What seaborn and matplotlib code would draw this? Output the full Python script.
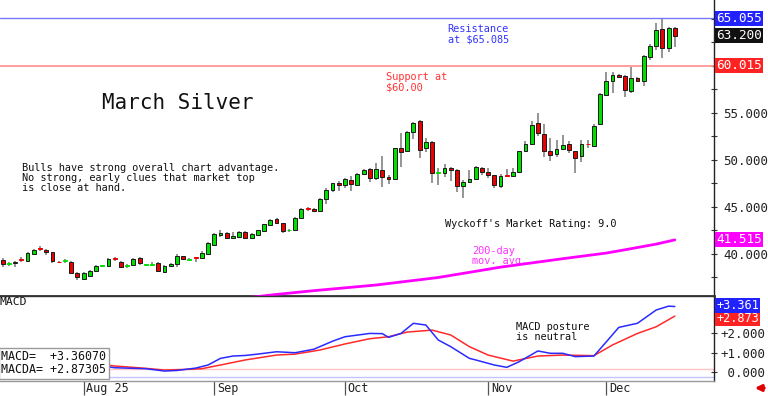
import numpy as np
import matplotlib
matplotlib.use('Agg')
import matplotlib.pyplot as plt
import seaborn as sns
from matplotlib.ticker import MultipleLocator
from matplotlib.transforms import ScaledTranslation

# daily candles, Jul 15 2025 .. Dec 16 2025
opens = [39.4, 38.9, 39.05, 39.45, 39.25, 40.0, 40.55, 40.45, 40.2, 39.2,
         39.25, 39.2, 38.0, 37.35, 37.7, 38.2, 38.7, 38.75, 39.5, 39.15,
         38.7, 38.8, 39.55, 38.8, 38.85, 39.0, 38.1, 38.75, 38.95, 39.75,
         39.4, 39.65, 39.6, 40.05, 41.0, 42.05, 42.2, 41.65, 41.85, 42.3,
         41.7, 42.05, 42.45, 43.1, 43.7, 43.25, 42.5, 42.5, 43.8, 44.8,
         44.75, 44.6, 45.9, 46.8, 47.5, 47.3, 47.9, 47.3, 48.5, 49.0,
         48.1, 48.9, 48.2, 47.95, 51.25, 50.95, 53.0, 54.15, 51.25, 51.95,
         48.6, 48.6, 49.2, 48.9, 47.25, 47.65, 48.0, 49.1, 48.75, 48.4,
         47.25, 48.4, 48.35, 48.75, 50.95, 51.65, 53.9, 52.75, 51.0, 50.6,
         51.15, 51.75, 50.95, 50.4, 51.7, 51.5, 53.8, 56.9, 58.35, 59.05,
         58.95, 57.35, 58.7, 58.4, 61.0, 62.1, 63.95, 61.95, 64.0]
highs = [39.6, 39.1, 39.3, 39.65, 40.2, 40.55, 40.8, 40.5, 40.25, 39.25,
         39.45, 39.25, 38.1, 38.1, 38.3, 38.8, 38.8, 39.6, 39.7, 39.25,
         38.9, 39.6, 39.65, 38.95, 39.2, 39.1, 38.8, 39.05, 40.0, 39.8,
         39.6, 39.7, 40.3, 41.3, 42.2, 42.6, 42.3, 42.3, 42.45, 42.45,
         42.2, 42.6, 43.2, 43.75, 43.85, 43.3, 42.7, 43.9, 44.9, 45.0,
         44.85, 46.0, 47.0, 47.6, 47.75, 48.1, 48.3, 48.6, 49.05, 49.1,
         49.7, 50.4, 48.4, 51.3, 52.9, 53.1, 54.0, 54.25, 52.3, 52.0,
         49.1, 49.55, 49.3, 49.0, 47.9, 48.9, 49.4, 49.3, 49.2, 48.45,
         48.5, 49.0, 49.2, 51.0, 52.0, 54.2, 54.95, 53.85, 52.35, 52.1,
         52.7, 52.0, 51.0, 52.1, 52.1, 53.8, 57.1, 59.4, 59.35, 59.15,
         59.0, 59.85, 58.85, 61.2, 62.3, 64.6, 65.0, 64.2, 64.1]
lows = [38.6, 38.7, 38.6, 39.2, 39.2, 39.9, 40.3, 39.85, 39.05, 39.05,
        39.05, 37.95, 37.25, 37.25, 37.65, 38.15, 38.65, 38.7, 39.3, 38.5,
        38.55, 38.75, 38.8, 38.7, 38.75, 38.1, 37.95, 38.6, 38.6, 39.4,
        39.3, 39.2, 39.55, 39.85, 40.9, 41.85, 41.6, 41.55, 41.7, 41.6,
        41.6, 41.95, 42.35, 43.0, 43.15, 42.2, 42.35, 42.45, 43.75, 44.6,
        44.45, 44.55, 45.3, 46.6, 46.75, 47.05, 46.65, 47.25, 48.45, 47.7,
        47.9, 47.15, 47.4, 47.9, 49.3, 50.9, 52.2, 50.2, 50.9, 47.6,
        47.35, 48.2, 47.8, 46.6, 46.0, 47.5, 47.95, 48.45, 48.1, 47.05,
        47.05, 48.2, 48.3, 48.7, 50.8, 51.6, 52.55, 50.35, 49.9, 50.3,
        51.1, 50.7, 48.65, 49.8, 51.3, 51.4, 53.7, 56.8, 57.15, 58.7,
        56.75, 57.15, 58.3, 57.9, 60.6, 61.7, 60.9, 61.45, 62.05]
closes = [38.9, 38.95, 39.2, 39.4, 40.1, 40.4, 40.5, 40.2, 39.25, 39.1,
          39.3, 38.0, 37.55, 38.0, 38.2, 38.7, 38.75, 39.45, 39.45, 38.6,
          38.8, 39.5, 39.0, 38.85, 38.95, 38.15, 38.7, 38.9, 39.75, 39.45,
          39.5, 39.6, 40.15, 41.2, 42.1, 42.25, 41.65, 41.9, 42.35, 41.75,
          42.1, 42.5, 43.15, 43.65, 43.35, 42.4, 42.55, 43.8, 44.8, 44.75,
          44.55, 45.9, 46.8, 47.5, 47.3, 47.95, 47.4, 48.5, 48.95, 48.05,
          49.0, 48.15, 47.95, 51.25, 50.9, 53.0, 53.95, 51.1, 51.9, 48.6,
          48.65, 49.1, 48.9, 47.25, 47.65, 47.95, 49.25, 48.75, 48.4, 47.35,
          48.35, 48.35, 48.7, 50.95, 51.65, 53.75, 52.85, 50.95, 50.55, 51.15,
          51.6, 51.05, 50.25, 51.7, 51.65, 53.65, 57.0, 58.35, 59.05, 58.8,
          57.45, 58.7, 58.4, 61.05, 62.1, 63.85, 61.95, 64.0, 63.2]

month_idx = [13, 34, 55, 78, 97]
month_labels = ['Aug 25', 'Sep', 'Oct', 'Nov', 'Dec']

# 200-day moving average (read at a few candles)
ma_idx = [40, 44, 50, 60, 70, 80, 90, 97, 100, 105, 108]
ma_vals = [35.4, 35.7, 36.1, 36.7, 37.5, 38.6, 39.5, 40.1, 40.45, 41.05, 41.5]

# MACD lines
macd_idx = [0, 3, 5, 7, 10, 14, 18, 23, 26, 28, 31, 33, 35, 37, 39, 41, 44, 47, 50, 53,
            55, 59, 61, 62, 64, 66, 68, 70, 72, 75, 76, 79, 81, 83, 86, 88, 90, 92, 95, 97,
            99, 102, 105, 107, 108]
macd_vals = [0.7, 0.8, 0.87, 0.86, 0.7, 0.4, 0.22, 0.17, 0.05, 0.08, 0.2, 0.36, 0.70, 0.82,
             0.85, 0.92, 1.04, 0.99, 1.17, 1.58, 1.81, 1.98, 1.97, 1.78, 1.98, 2.50, 2.41,
             1.64, 1.30, 0.70, 0.62, 0.36, 0.24, 0.53, 1.08, 0.96, 0.96, 0.79, 0.82, 1.55,
             2.29, 2.50, 3.18, 3.38, 3.36]
sig_idx = [0, 5, 10, 14, 18, 23, 26, 30, 32, 35, 39, 44, 47, 51, 55, 59, 62, 65, 69, 72,
           75, 78, 82, 86, 90, 95, 98, 102, 105, 108]
sig_vals = [0.55, 0.62, 0.6, 0.45, 0.31, 0.19, 0.10, 0.14, 0.17, 0.36, 0.62, 0.87, 0.92,
            1.13, 1.44, 1.71, 1.81, 2.05, 2.15, 1.90, 1.30, 0.87, 0.56, 0.82, 0.87, 0.84,
            1.39, 1.98, 2.32, 2.87]

resistance = 65.055
support = 60.015
last_close = 63.200
ma_last = 41.515
macd_last = 3.36070
macda_last = 2.87305

sns.set_theme(style='white')
plt.rcParams['font.family'] = ['DejaVu Sans Mono']

fig = plt.figure(figsize=(7.68, 3.96), dpi=100)
fig.patch.set_facecolor('white')
ax = fig.add_axes([0, 0.2525, 0.9297, 0.7475])
ax2 = fig.add_axes([0, 0.0386, 0.9297, 0.2139])

# ---- price panel ----
x = np.arange(len(closes))
o = np.array(opens)
c = np.array(closes)
up = c >= o
face = np.where(up, '#00e000', '#ec0000')
diff = np.abs(c - o)
heights = np.maximum(diff, 0.09)
bottoms = np.minimum(o, c)
edges = [('#1a1a1a' if d >= 0.12 else f) for d, f in zip(diff, face)]

ax.vlines(x, lows, highs, color='#8c8c8c', lw=1.3, zorder=2)
ax.bar(x, heights, bottom=bottoms, width=0.62, color=face, edgecolor=edges,
       linewidth=0.7, zorder=3)

sns.lineplot(x=ma_idx, y=ma_vals, ax=ax, color='#ff00ff', lw=2, sort=False,
             estimator=None, zorder=4)

ax.axhline(resistance, color='#7878ff', lw=1, zorder=1)
ax.axhline(support, color='#ff8c8c', lw=1.2, zorder=1)

ax.set_xlim(-0.43, 114.3)
ax.set_ylim(35.53, 67.02)
ax.set_xticks([])
ax.yaxis.tick_right()
ax.set_yticks([40, 45, 50, 55])
ax.set_yticklabels(['40.000', '45.000', '50.000', '55.000'])
ax.yaxis.set_minor_locator(MultipleLocator(2.5))
ax.tick_params(axis='y', which='both', right=True, left=False, labelright=True,
               labelleft=False, direction='inout', length=5, width=0.8,
               color='#333333', labelsize=9, pad=4, labelcolor='#222222')
for s in ['top', 'left']:
    ax.spines[s].set_visible(False)
ax.spines['bottom'].set_color('#333333')
ax.spines['bottom'].set_linewidth(2)
ax.spines['right'].set_color('#222222')
ax.spines['right'].set_linewidth(1)

ax.text(0.143, 0.652, 'March Silver', transform=ax.transAxes, fontsize=15,
        color='#111111', va='center', ha='left')
ax.text(0.031, 0.399, 'Bulls have strong overall chart advantage.\n'
        'No strong, early clues that market top\nis close at hand.',
        transform=ax.transAxes, fontsize=7.4, color='#111111', va='center',
        ha='left', linespacing=1.05)
ax.text(0.627, 0.885, 'Resistance\nat $65.085', transform=ax.transAxes,
        fontsize=7.4, color='#3333ff', va='center', ha='left', linespacing=1.05)
ax.text(0.541, 0.723, 'Support at\n$60.00', transform=ax.transAxes,
        fontsize=7.4, color='#ff3333', va='center', ha='left', linespacing=1.05)
ax.text(0.623, 0.243, "Wyckoff's Market Rating: 9.0", transform=ax.transAxes,
        fontsize=7.4, color='#111111', va='center', ha='left')
ax.text(0.661, 0.135, '200-day\nmov. avg.', transform=ax.transAxes,
        fontsize=7.4, color='#ff33ff', va='center', ha='left', linespacing=1.05)


def tag(axis, val, txt, fc, size=9.2):
    axis.text(1.003, val, txt, transform=axis.get_yaxis_transform(), ha='left',
              va='center', color='white', fontsize=size, clip_on=False, zorder=6,
              bbox=dict(boxstyle='square,pad=0.08', fc=fc, ec='none'))


tag(ax, resistance, f'{resistance:.3f}', '#2222ff')
tag(ax, last_close, f'{last_close:.3f}', '#111111')
tag(ax, support, f'{support:.3f}', '#ff2222')
tag(ax, ma_last, f'{ma_last:.3f}', '#ff00ff')

# ---- MACD panel ----
ax2.axhline(0.15, color='#ffc4c4', lw=1, zorder=1)
ax2.axhline(-0.27, color='#c4c4ff', lw=1, zorder=1)
sns.lineplot(x=sig_idx, y=sig_vals, ax=ax2, color='#ff2a2a', lw=1.1, sort=False,
             estimator=None, zorder=3)
sns.lineplot(x=macd_idx, y=macd_vals, ax=ax2, color='#2a2aff', lw=1.1, sort=False,
             estimator=None, zorder=4)

ax2.set_xlim(-0.43, 114.3)
ax2.set_ylim(-0.446, 3.90)
ax2.yaxis.tick_right()
ax2.set_yticks([0, 1, 2])
ax2.set_yticklabels([' 0.000', '+1.000', '+2.000'])
ax2.tick_params(axis='y', right=True, left=False, labelright=True, labelleft=False,
                direction='inout', length=5, width=0.8, color='#333333',
                labelsize=9, pad=2, labelcolor='#222222')
ax2.set_xticks(month_idx)
ax2.set_xticklabels(month_labels)
ax2.tick_params(axis='x', bottom=True, direction='out', length=10, width=0.9,
                color='#555555', labelsize=8.5, pad=-8.8, labelcolor='#222222')
for lbl in ax2.get_xticklabels():
    lbl.set_ha('left')
    lbl.set_transform(lbl.get_transform() + ScaledTranslation(2 / 72, 0, fig.dpi_scale_trans))
ax2.spines['left'].set_visible(False)
ax2.spines['top'].set_color('#333333')
ax2.spines['top'].set_linewidth(1)
ax2.spines['bottom'].set_color('#999999')
ax2.spines['bottom'].set_linewidth(1)
ax2.spines['right'].set_color('#222222')
ax2.spines['right'].set_linewidth(1)

ax2.text(0.0, 0.93, 'MACD', transform=ax2.transAxes, fontsize=8.2,
         color='#111111', va='center', ha='left')
ax2.text(0.723, 0.575, 'MACD posture\nis neutral', transform=ax2.transAxes,
         fontsize=7.4, color='#111111', va='center', ha='left', linespacing=1.05)
ax2.text(0.002, 0.05, f'MACD=  {macd_last:+.5f}\nMACDA= {macda_last:+.5f}',
         transform=ax2.transAxes, fontsize=8.4, color='#111111', va='bottom',
         ha='left', linespacing=1.0, zorder=7,
         bbox=dict(boxstyle='square,pad=0.2', fc='white', ec='#9a9a9a', lw=1))

tag(ax2, macda_last - 0.12, f'{macda_last:+.3f}', '#ff2222', size=8.6)
tag(ax2, macd_last + 0.06, f'{macd_last:+.3f}', '#2222ff', size=8.6)

ax2.annotate('', xy=(752, 8), xytext=(767, 8), xycoords='figure pixels',
             textcoords='figure pixels',
             arrowprops=dict(arrowstyle='-|>', color='#e00000', lw=2.2,
                             mutation_scale=9))

fig.savefig('out.png', dpi=100, facecolor='white')
